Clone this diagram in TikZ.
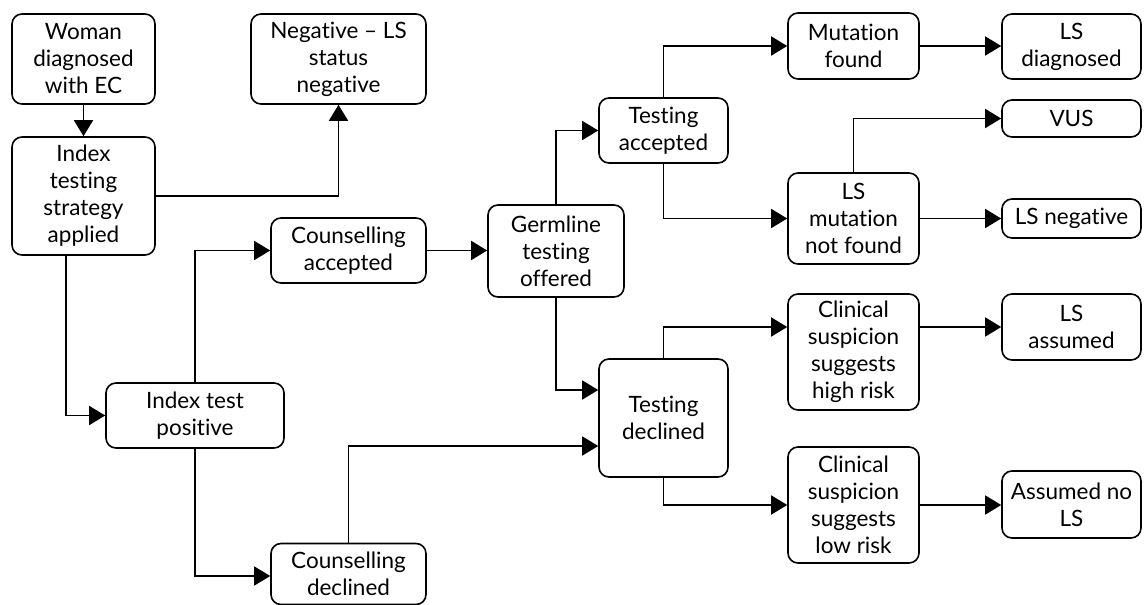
\documentclass[tikz,border=0pt]{standalone}
\usepackage{fontspec}
\setmainfont{Lato}[Ligatures=NoCommon]
\usetikzlibrary{arrows.meta,calc}
\begin{document}
\begin{tikzpicture}[x=1pt,y=-1pt,
  box/.style={draw,line width=1.6pt,rounded corners=10pt,align=center,
    inner sep=0pt,font=\fontsize{22.5}{27}\selectfont},
  flow/.style={line width=1.6pt,-{Triangle[length=16pt,width=19pt]}}]
\useasboundingbox (0,0) rectangle (1144,605);
% boxes: centre, width, height
\newcommand\stepnode[6]{\node[box,minimum width=#4pt,minimum height=#5pt] (#1) at (#2,#3) {#6};}
\stepnode{woman}{83.5}{59}{143}{90}{Woman\\diagnosed\\with EC}
\stepnode{neg}{338.5}{59}{175}{90}{Negative – LS\\status\\negative}
\stepnode{index}{83.5}{196}{143}{118}{Index\\testing\\strategy\\applied}
\stepnode{cacc}{348.5}{250.5}{155}{65}{Counselling\\accepted}
\stepnode{itp}{195}{415.5}{178}{65}{Index test\\positive}
\stepnode{cdec}{348.5}{574}{155}{61}{Counselling\\declined}
\stepnode{germ}{556}{251}{136}{92}{Germline\\testing\\offered}
\stepnode{tacc}{663.5}{130.5}{129}{65}{Testing\\accepted}
\stepnode{tdec}{663.5}{418}{129}{118}{Testing\\declined}
\stepnode{mut}{853.5}{46}{131}{66}{Mutation\\found}
\stepnode{lsmnf}{853.5}{218.5}{131}{91}{LS\\mutation\\not found}
\stepnode{chigh}{853.5}{352}{131}{116}{Clinical\\suspicion\\suggests\\high risk}
\stepnode{clow}{853.5}{505}{131}{116}{Clinical\\suspicion\\suggests\\low risk}
\stepnode{lsdiag}{1071.5}{46.5}{139}{65}{LS\\diagnosed}
\stepnode{vus}{1071.5}{118.5}{139}{37}{VUS}
\stepnode{lsneg}{1071.5}{218.5}{139}{39}{LS negative}
\stepnode{lsass}{1071.5}{327}{139}{66}{LS\\assumed}
\stepnode{anols}{1071.5}{504.5}{139}{67}{Assumed no\\LS}
% connectors
\draw[flow] (woman) -- (index);
\draw[flow] (index.east) -| (neg.south);
\draw[flow] ([xshift=-17.5pt]index.south) |- (itp.west);
\draw[flow] (itp.north) |- (cacc.west);
\draw[flow] (itp.south) |- ([yshift=-2pt]cdec.west);
\draw[flow] (cacc.east) -- (germ.west |- cacc.east);
\draw[flow] (cdec.north) |- ([yshift=-28pt]tdec.west);
\draw[flow] (germ.north) |- (tacc.west);
\draw[flow] (germ.south) |- ([yshift=28pt]tdec.west);
\draw[flow] (tacc.north) |- (mut.west);
\draw[flow] (tacc.south) |- (lsmnf.west);
\draw[flow] (mut.east) -- (lsdiag.west |- mut.east);
\draw[flow] (lsmnf.north) |- (vus.west);
\draw[flow] (lsmnf.east) -- (lsneg.west);
\draw[flow] (tdec.north) |- (chigh.west |- lsass.west);
\draw[flow] (chigh.east |- lsass.west) -- (lsass.west);
\draw[flow] (tdec.south) |- (clow.west);
\draw[flow] (clow.east) -- (anols.west |- clow.east);
\end{tikzpicture}
\end{document}
